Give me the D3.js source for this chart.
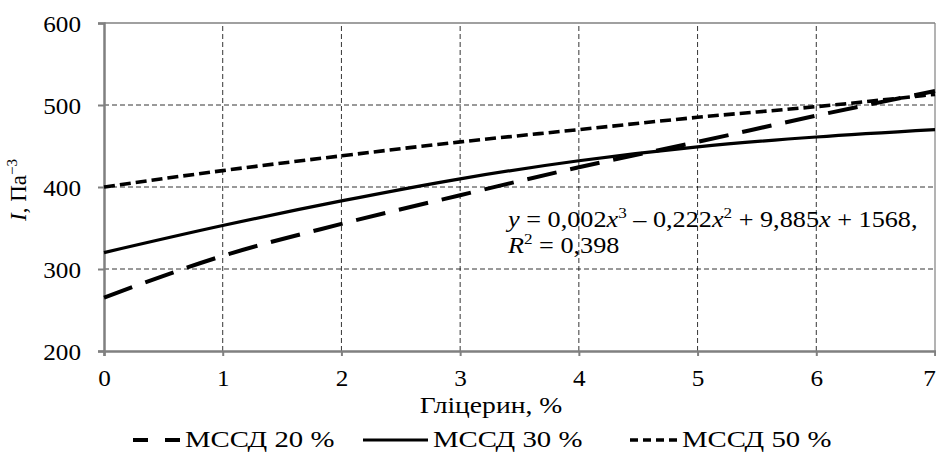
<!DOCTYPE html>
<html>
<head>
<meta charset="utf-8">
<script src="https://cdn.jsdelivr.net/npm/d3@7"></script>
</head>
<body style="margin:0;background:#fff">
<div id="chart"></div>
<script>
// glycerin content, %
const xValues = [0, 1, 2, 3, 4, 5, 6, 7];
// values
const mssd20 = [265, 316, 355, 390, 424, 455, 487, 517];
const mssd30 = [320, 353, 383, 410, 432, 449, 461, 470];
const mssd50 = [400, 420, 438, 455, 470, 485, 498, 513];
const seriesNames = ["МССД 20 %", "МССД 30 %", "МССД 50 %"];
const yTicks = [200, 300, 400, 500, 600];
const xTicks = [0, 1, 2, 3, 4, 5, 6, 7];

const FONT = "Liberation Serif";
const width = 936, height = 453;
const margin = {left: 104, right: 1, top: 23, bottom: 102};

const svg = d3.select("#chart").append("svg")
    .attr("width", width)
    .attr("height", height)
    .attr("font-family", FONT);

const x = d3.scaleLinear().domain([0, 7]).range([margin.left, width - margin.right]);
const y = d3.scaleLinear().domain([200, 600]).range([height - margin.bottom, margin.top]);

// grid
const grid = svg.append("g");
grid.selectAll("line.h").data(yTicks.slice(1, -1)).enter().append("line")
    .attr("x1", x(0)).attr("x2", x(7))
    .attr("y1", d => y(d)).attr("y2", d => y(d))
    .attr("stroke", "#000").attr("stroke-width", 0.8).attr("stroke-dasharray", "5,3");
grid.selectAll("line.v").data(xTicks.slice(1, -1)).enter().append("line")
    .attr("x1", d => x(d)).attr("x2", d => x(d))
    .attr("y1", y(200)).attr("y2", y(600))
    .attr("stroke", "#000").attr("stroke-width", 0.8).attr("stroke-dasharray", "5,3");

// border top / right
svg.append("line").attr("x1", x(0)).attr("x2", x(7)).attr("y1", y(600)).attr("y2", y(600))
    .attr("stroke", "#808080").attr("stroke-width", 1.5);
svg.append("line").attr("x1", x(7)).attr("x2", x(7)).attr("y1", y(600)).attr("y2", y(200))
    .attr("stroke", "#808080").attr("stroke-width", 1.2);

// axes
const yAxis = svg.append("g")
    .attr("transform", `translate(${x(0)},0)`)
    .call(d3.axisLeft(y).tickValues(yTicks).tickSize(6).tickPadding(0).tickFormat(d3.format("d")));
const xAxis = svg.append("g")
    .attr("transform", `translate(0,${y(200)})`)
    .call(d3.axisBottom(x).tickValues(xTicks).tickSize(5).tickPadding(0).tickFormat(d3.format("d")));
[yAxis, xAxis].forEach(a => {
  a.attr("font-family", FONT);
  a.select(".domain").attr("stroke", "#808080").attr("stroke-width", 2.5);
  a.selectAll(".tick line").attr("stroke", "#808080").attr("stroke-width", 2);
  a.selectAll("text").attr("font-family", FONT).attr("font-size", 24).attr("fill", "#000");
});
yAxis.selectAll(".tick text")
    .attr("x", 0).attr("dy", "0.35em")
    .attr("transform", "translate(-23,0) scale(1.05,1)");
xAxis.selectAll(".tick text")
    .attr("y", 0).attr("dy", "0")
    .attr("transform", d => `translate(${d === 7 ? -6 : 0},35) scale(1.05,1)`);

// lines
const styles = [
  {data: mssd20, dash: "30,14", w: 4, legendDash: "15,17"},
  {data: mssd30, dash: null, w: 3.2, legendDash: null},
  {data: mssd50, dash: "11,5", w: 3.6, legendDash: "8,5"}
];
const line = d3.line()
    .x((d, i) => x(xValues[i]))
    .y(d => y(d))
    .curve(d3.curveMonotoneX);

styles.forEach(s => {
  svg.append("path")
    .attr("d", line(s.data))
    .attr("fill", "none")
    .attr("stroke", "#000")
    .attr("stroke-width", s.w)
    .attr("stroke-dasharray", s.dash);
});

// text squeezed/stretched sideways like in the source picture
function stretched(px, py, size, sx) {
  return svg.append("text")
    .attr("transform", `translate(${px},${py}) scale(${sx},1)`)
    .attr("font-size", size)
    .attr("font-family", FONT);
}

// trend equation
const eq = stretched(508, 227, 23, 1.14);
eq.append("tspan").attr("font-style", "italic").text("y");
eq.append("tspan").text(" = 0,002");
eq.append("tspan").attr("font-style", "italic").text("x");
eq.append("tspan").attr("font-size", 15).attr("dy", -9).text("3");
eq.append("tspan").attr("dy", 9).text(" – 0,222");
eq.append("tspan").attr("font-style", "italic").text("x");
eq.append("tspan").attr("font-size", 15).attr("dy", -9).text("2");
eq.append("tspan").attr("dy", 9).text(" + 9,885");
eq.append("tspan").attr("font-style", "italic").text("x");
eq.append("tspan").text(" + 1568,");

const r2 = stretched(508, 253, 23, 1.14);
r2.append("tspan").attr("font-style", "italic").text("R");
r2.append("tspan").attr("font-size", 15).attr("dy", -9).text("2");
r2.append("tspan").attr("dy", 9).text(" = 0,398");

// axis titles
const yl = svg.append("text")
    .attr("transform", "translate(26,190) rotate(-90)")
    .attr("text-anchor", "middle")
    .attr("font-size", 23)
    .attr("font-family", FONT);
yl.append("tspan").attr("font-style", "italic").text("I");
yl.append("tspan").text(", Па");
yl.append("tspan").attr("font-size", 15).attr("dy", -9).text("−3");

stretched(491, 413, 24, 1.15)
    .attr("text-anchor", "middle")
    .text("Гліцерин, %");

// legend
const legendX = [133, 363, 630];
const sampleW = [47, 65, 47];
const legend = svg.append("g");
styles.forEach((s, i) => {
  legend.append("line")
    .attr("x1", legendX[i]).attr("x2", legendX[i] + sampleW[i])
    .attr("y1", 440).attr("y2", 440)
    .attr("stroke", "#000")
    .attr("stroke-width", s.w)
    .attr("stroke-dasharray", s.legendDash);
  stretched(legendX[i] + sampleW[i] + 5, 447, 24, 1.2).text(seriesNames[i]);
});
</script>
</body>
</html>
